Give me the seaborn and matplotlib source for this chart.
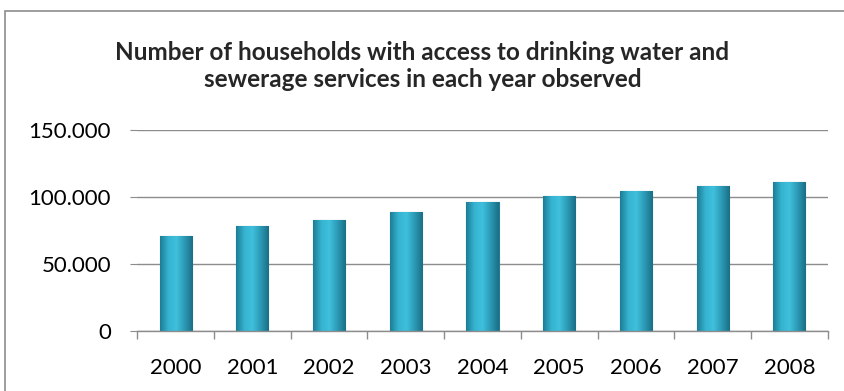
import seaborn as sns
import pandas as pd
import matplotlib.pyplot as plt
import numpy as np
from matplotlib.ticker import FuncFormatter, FixedLocator
from matplotlib.patches import Rectangle
from matplotlib.colors import LinearSegmentedColormap

years = ["2000", "2001", "2002", "2003", "2004", "2005", "2006", "2007", "2008"]
households = [71000, 77800, 82600, 88300, 96200, 100300, 104500, 108200, 111200]
title = "Number of households with access to drinking water and\nsewerage services in each year observed"

df = pd.DataFrame({"year": years, "households": households})

sns.set_style("white")
plt.rcParams["font.family"] = ["Lato", "DejaVu Sans"]

fig = plt.figure(figsize=(8.45, 3.91), dpi=100)
ax = fig.add_axes([0.1625, 0.1542, 0.817, 0.514])

sns.barplot(data=df, x="year", y="households", color="#2fa6c4", width=0.42,
            edgecolor="#1f7f96", linewidth=0.8, saturation=1, ax=ax)

# shaded look: horizontal gradient clipped to each bar
cmap = LinearSegmentedColormap.from_list("bar", ["#1d7d95", "#35b3d0", "#3fc0dc", "#2c9ab6", "#1a6f85"])
grad = np.linspace(0, 1, 64).reshape(1, -1)
for p in ax.patches:
    x0, y0 = p.get_x(), p.get_y()
    w, h = p.get_width(), p.get_height()
    im = ax.imshow(grad, cmap=cmap, extent=[x0, x0 + w, y0, y0 + h], aspect="auto", zorder=p.get_zorder() + 0.1)
    im.set_clip_path(p)

ax.set_ylim(0, 150000)
ax.set_xlim(-0.5, len(years) - 0.5)
ax.yaxis.set_major_locator(FixedLocator([0, 50000, 100000, 150000]))
ax.yaxis.set_major_formatter(FuncFormatter(lambda v, p: f"{int(v):,}".replace(",", ".")))
ax.yaxis.grid(True, color="#8c8c8c", linewidth=1)
ax.set_axisbelow(True)
ax.set_xlabel("")
ax.set_ylabel("")

for s in ["top", "right", "left"]:
    ax.spines[s].set_visible(False)
ax.spines["bottom"].set_color("#8c8c8c")
ax.spines["bottom"].set_linewidth(1)
ax.spines["bottom"].set_zorder(5)

ax.tick_params(axis="y", which="major", left=True, length=5, color="#8c8c8c",
               pad=14, labelsize=16, labelcolor="black")
ax.tick_params(axis="x", which="major", length=0, pad=20, labelsize=16, labelcolor="black")
ax.xaxis.set_minor_locator(FixedLocator(np.arange(-0.5, len(years), 1.0)))
ax.tick_params(axis="x", which="minor", bottom=True, length=6, color="#8c8c8c", width=1)

fig.text(0.5, 0.832, title, ha="center", va="center", fontsize=17.5, fontweight="bold",
         linespacing=1.2)

fig.patches.append(Rectangle((5 / 845, -0.1), 1.2, 1.1 - 11 / 391, transform=fig.transFigure,
                             fill=False, edgecolor="#8c8c8c", linewidth=1.2))

plt.savefig("out.png", dpi=100)
